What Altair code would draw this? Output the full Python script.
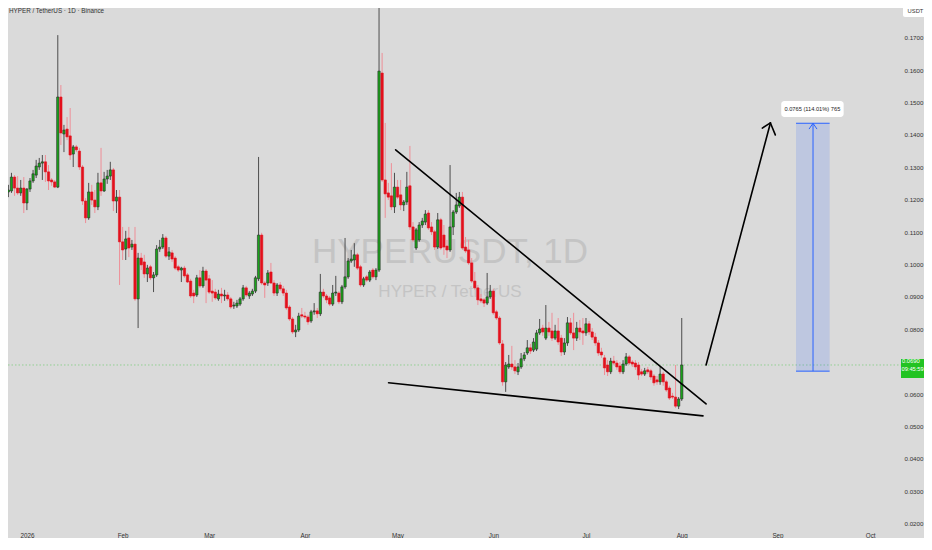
import altair as alt
import pandas as pd

# ---------------- data (daily candles, HYPER/USDT) ----------------
FIRST_DAY = "2025-12-25"

opens = [
    # Dec 25-31
    0.1243, 0.1224, 0.1227, 0.1270, 0.1236, 0.1221, 0.1236,
    # Jan
    0.1190, 0.1233, 0.1258, 0.1276, 0.1301, 0.1313, 0.1317, 0.1286, 0.1261, 0.1255,
    0.1239, 0.1517, 0.1403, 0.1418, 0.1397, 0.1341, 0.1363, 0.1350, 0.1301, 0.1196,
    0.1144, 0.1224, 0.1199, 0.1178, 0.1252, 0.1227, 0.1264, 0.1273, 0.1292, 0.1196,
    0.1208,
    # Feb
    0.1070, 0.1048, 0.1082, 0.1054, 0.1063, 0.0894, 0.1020, 0.1008, 0.0971, 0.0993,
    0.0959, 0.0968, 0.1048, 0.1054, 0.1082, 0.1026, 0.1036, 0.1020, 0.0993, 0.0983,
    0.0989, 0.0968, 0.0949, 0.0912, 0.0906, 0.0959, 0.0934, 0.0980,
    # Mar
    0.0956, 0.0918, 0.0915, 0.0894, 0.0909, 0.0903, 0.0906, 0.0894, 0.0872, 0.0872,
    0.0878, 0.0894, 0.0928, 0.0903, 0.0909, 0.0918, 0.0956, 0.1091, 0.0943, 0.0943,
    0.0977, 0.0943, 0.0912, 0.0937, 0.0925, 0.0912, 0.0869, 0.0832, 0.0792, 0.0798,
    0.0845,
    # Apr
    0.0841, 0.0838, 0.0826, 0.0854, 0.0857, 0.0848, 0.0915, 0.0903, 0.0897, 0.0878,
    0.0912, 0.0912, 0.0885, 0.0931, 0.0962, 0.1011, 0.1014, 0.1030, 0.0993, 0.0937,
    0.0962, 0.0952, 0.0983, 0.0962, 0.0983, 0.1591, 0.1261, 0.1221, 0.1212, 0.1178,
    # May
    0.1239, 0.1215, 0.1184, 0.1193, 0.1243, 0.1116, 0.1051, 0.1076, 0.1122, 0.1131,
    0.1159, 0.1116, 0.1101, 0.1054, 0.1138, 0.1091, 0.1057, 0.1045, 0.1116, 0.1162,
    0.1181, 0.1208, 0.1054, 0.1045, 0.1005, 0.0949, 0.0928, 0.0894, 0.0891, 0.0881,
    0.0900,
    # Jun
    0.0918, 0.0854, 0.0835, 0.0755, 0.0638, 0.0684, 0.0693, 0.0684, 0.0669, 0.0684,
    0.0709, 0.0727, 0.0743, 0.0736, 0.0739, 0.0789, 0.0804, 0.0773, 0.0804, 0.0795,
    0.0773, 0.0795, 0.0773, 0.0730, 0.0758, 0.0820, 0.0789, 0.0773, 0.0804, 0.0795,
    # Jul
    0.0789, 0.0817, 0.0792, 0.0776, 0.0758, 0.0730, 0.0712, 0.0690, 0.0669, 0.0702,
    0.0696, 0.0687, 0.0669, 0.0693, 0.0715, 0.0699, 0.0696, 0.0690, 0.0669, 0.0662,
    0.0675, 0.0672, 0.0656, 0.0644, 0.0638, 0.0662, 0.0638, 0.0619, 0.0594, 0.0591,
    0.0563,
    # Aug 1
    0.0585,
]

highs = [
    0.1298, 0.1246, 0.1283, 0.1276, 0.1273, 0.1261, 0.1270,
    0.1236, 0.1267, 0.1292, 0.1323, 0.1329, 0.1338, 0.1338, 0.1307, 0.1267, 0.1261,
    0.1708, 0.1554, 0.1431, 0.1455, 0.1483, 0.1369, 0.1369, 0.1360, 0.1307, 0.1205,
    0.1252, 0.1246, 0.1230, 0.1283, 0.1360, 0.1286, 0.1292, 0.1317, 0.1298, 0.1230,
    0.1230,
    0.1116, 0.1104, 0.1116, 0.1076, 0.1116, 0.1036, 0.1036, 0.1030, 0.0999, 0.0999,
    0.0977, 0.1060, 0.1076, 0.1094, 0.1088, 0.1054, 0.1045, 0.1026, 0.0999, 0.0993,
    0.0996, 0.0974, 0.0956, 0.0922, 0.0968, 0.0983, 0.0993, 0.0986,
    0.0968, 0.0952, 0.0925, 0.0922, 0.0928, 0.0922, 0.0915, 0.0900, 0.0885, 0.0891,
    0.0900, 0.0937, 0.0934, 0.0918, 0.0925, 0.0965, 0.1332, 0.1098, 0.0949, 0.0983,
    0.1005, 0.0952, 0.0943, 0.0946, 0.0934, 0.0922, 0.0875, 0.0838, 0.0814, 0.0851,
    0.0866,
    0.0854, 0.0845, 0.0860, 0.0881, 0.0866, 0.0971, 0.0925, 0.0909, 0.0903, 0.0937,
    0.0965, 0.0918, 0.0937, 0.1082, 0.1020, 0.1045, 0.1066, 0.1036, 0.0999, 0.0962,
    0.0968, 0.0983, 0.0989, 0.0989, 0.1832, 0.1653, 0.1437, 0.1252, 0.1313, 0.1283,
    0.1261, 0.1261, 0.1199, 0.1286, 0.1366, 0.1131, 0.1113, 0.1131, 0.1144, 0.1168,
    0.1168, 0.1131, 0.1107, 0.1159, 0.1144, 0.1122, 0.1076, 0.1307, 0.1168, 0.1221,
    0.1224, 0.1224, 0.1085, 0.1076, 0.1020, 0.0977, 0.0937, 0.0909, 0.0897, 0.0974,
    0.0937,
    0.0925, 0.0860, 0.0841, 0.0767, 0.0699, 0.0721, 0.0749, 0.0705, 0.0696, 0.0727,
    0.0730, 0.0767, 0.0755, 0.0773, 0.0798, 0.0832, 0.0814, 0.0875, 0.0823, 0.0851,
    0.0814, 0.0835, 0.0783, 0.0773, 0.0838, 0.0835, 0.0851, 0.0823, 0.0829, 0.0835,
    0.0835, 0.0826, 0.0804, 0.0789, 0.0767, 0.0743, 0.0721, 0.0705, 0.0712, 0.0718,
    0.0705, 0.0699, 0.0705, 0.0727, 0.0721, 0.0705, 0.0705, 0.0699, 0.0678, 0.0681,
    0.0684, 0.0678, 0.0662, 0.0656, 0.0684, 0.0669, 0.0644, 0.0626, 0.0604, 0.0690,
    0.0591,
    0.0835,
]

lows = [
    0.1215, 0.1208, 0.1221, 0.1212, 0.1215, 0.1212, 0.1159,
    0.1168, 0.1224, 0.1252, 0.1267, 0.1292, 0.1261, 0.1255, 0.1230, 0.1243, 0.1236,
    0.1236, 0.1369, 0.1347, 0.1384, 0.1323, 0.1301, 0.1347, 0.1292, 0.1184, 0.1128,
    0.1138, 0.1184, 0.1159, 0.1168, 0.1212, 0.1224, 0.1249, 0.1261, 0.1165, 0.1159,
    0.0937,
    0.1014, 0.1014, 0.1023, 0.1045, 0.0888, 0.0804, 0.0983, 0.0959, 0.0946, 0.0952,
    0.0915, 0.0962, 0.1039, 0.1048, 0.1020, 0.1014, 0.1008, 0.0983, 0.0977, 0.0946,
    0.0959, 0.0943, 0.0897, 0.0881, 0.0900, 0.0928, 0.0928, 0.0881,
    0.0909, 0.0885, 0.0891, 0.0888, 0.0881, 0.0888, 0.0888, 0.0863, 0.0863, 0.0866,
    0.0872, 0.0888, 0.0900, 0.0894, 0.0903, 0.0912, 0.0949, 0.0937, 0.0897, 0.0934,
    0.0940, 0.0903, 0.0903, 0.0918, 0.0903, 0.0860, 0.0826, 0.0786, 0.0776, 0.0792,
    0.0835,
    0.0832, 0.0814, 0.0820, 0.0845, 0.0835, 0.0841, 0.0897, 0.0881, 0.0872, 0.0872,
    0.0903, 0.0878, 0.0878, 0.0925, 0.0956, 0.1005, 0.0993, 0.0983, 0.0931, 0.0931,
    0.0946, 0.0946, 0.0956, 0.0952, 0.0977, 0.1255, 0.1144, 0.1199, 0.1168, 0.1159,
    0.1202, 0.1168, 0.1165, 0.1184, 0.1107, 0.1070, 0.1045, 0.1070, 0.1113, 0.1122,
    0.1107, 0.1091, 0.1045, 0.1048, 0.1045, 0.1030, 0.1020, 0.1039, 0.1091, 0.1156,
    0.1175, 0.1045, 0.1036, 0.0999, 0.0943, 0.0922, 0.0875, 0.0881, 0.0869, 0.0875,
    0.0894,
    0.0845, 0.0829, 0.0752, 0.0626, 0.0607, 0.0678, 0.0675, 0.0662, 0.0659, 0.0678,
    0.0702, 0.0721, 0.0724, 0.0730, 0.0733, 0.0783, 0.0780, 0.0767, 0.0780, 0.0764,
    0.0767, 0.0752, 0.0718, 0.0721, 0.0749, 0.0783, 0.0736, 0.0764, 0.0767, 0.0752,
    0.0780, 0.0783, 0.0767, 0.0749, 0.0718, 0.0712, 0.0659, 0.0656, 0.0662, 0.0690,
    0.0675, 0.0662, 0.0662, 0.0687, 0.0690, 0.0684, 0.0675, 0.0644, 0.0656, 0.0656,
    0.0662, 0.0644, 0.0626, 0.0629, 0.0629, 0.0626, 0.0607, 0.0582, 0.0585, 0.0557,
    0.0554,
    0.0579,
]

closes = [
    0.1224, 0.1230, 0.1270, 0.1236, 0.1221, 0.1236, 0.1190,
    0.1233, 0.1258, 0.1280, 0.1304, 0.1313, 0.1317, 0.1286, 0.1258, 0.1255, 0.1239,
    0.1517, 0.1406, 0.1415, 0.1394, 0.1338, 0.1363, 0.1354, 0.1301, 0.1196, 0.1144,
    0.1224, 0.1199, 0.1178, 0.1252, 0.1227, 0.1264, 0.1273, 0.1292, 0.1196, 0.1208,
    0.1070,
    0.1045, 0.1079, 0.1051, 0.1063, 0.0894, 0.1020, 0.0999, 0.0971, 0.0989, 0.0959,
    0.0968, 0.1048, 0.1054, 0.1082, 0.1026, 0.1039, 0.1017, 0.0989, 0.0983, 0.0989,
    0.0965, 0.0946, 0.0903, 0.0903, 0.0959, 0.0934, 0.0980, 0.0952,
    0.0915, 0.0912, 0.0897, 0.0909, 0.0903, 0.0906, 0.0894, 0.0869, 0.0875, 0.0881,
    0.0894, 0.0928, 0.0906, 0.0912, 0.0918, 0.0959, 0.1091, 0.0943, 0.0937, 0.0974,
    0.0943, 0.0912, 0.0937, 0.0925, 0.0912, 0.0866, 0.0832, 0.0792, 0.0798, 0.0841,
    0.0841,
    0.0838, 0.0823, 0.0854, 0.0857, 0.0848, 0.0915, 0.0903, 0.0891, 0.0878, 0.0912,
    0.0915, 0.0885, 0.0931, 0.0962, 0.1011, 0.1017, 0.1030, 0.0989, 0.0937, 0.0956,
    0.0952, 0.0977, 0.0962, 0.0983, 0.1597, 0.1261, 0.1218, 0.1208, 0.1178, 0.1239,
    0.1208, 0.1184, 0.1193, 0.1239, 0.1116, 0.1076, 0.1107, 0.1122, 0.1134, 0.1156,
    0.1113, 0.1101, 0.1054, 0.1138, 0.1051, 0.1054, 0.1045, 0.1116, 0.1162, 0.1184,
    0.1208, 0.1051, 0.1042, 0.1005, 0.0949, 0.0928, 0.0891, 0.0888, 0.0881, 0.0900,
    0.0918,
    0.0851, 0.0835, 0.0758, 0.0638, 0.0690, 0.0693, 0.0684, 0.0672, 0.0684, 0.0709,
    0.0721, 0.0743, 0.0733, 0.0761, 0.0789, 0.0801, 0.0792, 0.0804, 0.0792, 0.0773,
    0.0795, 0.0761, 0.0730, 0.0758, 0.0820, 0.0789, 0.0773, 0.0804, 0.0792, 0.0789,
    0.0817, 0.0792, 0.0776, 0.0758, 0.0727, 0.0721, 0.0681, 0.0669, 0.0702, 0.0696,
    0.0684, 0.0669, 0.0693, 0.0715, 0.0696, 0.0693, 0.0684, 0.0659, 0.0662, 0.0672,
    0.0669, 0.0653, 0.0635, 0.0638, 0.0662, 0.0638, 0.0613, 0.0588, 0.0591, 0.0563,
    0.0585,
    0.0690,
]

# axis ticks
price_ticks = [0.02, 0.03, 0.04, 0.05, 0.06, 0.07, 0.08, 0.09, 0.10,
               0.11, 0.12, 0.13, 0.14, 0.15, 0.16, 0.17]
month_ticks = ["2026-01-01", "2026-02-01", "2026-03-01", "2026-04-01", "2026-05-01",
               "2026-06-01", "2026-07-01", "2026-08-01", "2026-09-01", "2026-10-01"]
x_range = ["2025-12-27T12:00", "2026-10-08T01:40"]
y_range = [0.01746, 0.17917]

# drawings (date, price) anchor points
trend_upper = [("2026-04-30T09:00", 0.1354), ("2026-08-08T21:00", 0.0570)]
trend_lower = [("2026-04-28T02:00", 0.0635), ("2026-08-07T21:00", 0.0533)]
arrow_shaft = [("2026-08-08T21:00", 0.0690), ("2026-08-29T17:00", 0.1437)]
arrow_arms = [("2026-08-27T02:00", 0.1421), ("2026-08-31T07:00", 0.1400)]
pos_left, pos_mid, pos_right = "2026-09-07T00:00", "2026-09-12T12:00", "2026-09-17T21:00"
pos_entry, pos_target = 0.0671, 0.1436
pos_arm_left, pos_arm_right, pos_arm_price = "2026-09-11T05:00", "2026-09-13T19:00", 0.1418
pos_label = "0.0765 (114.01%) 765"
pos_label_box = [("2026-09-02T05:00", 0.1455), ("2026-09-22T10:00", 0.1505)]
pos_label_at = ("2026-09-12T07:00", 0.1480)

assert len(opens) == len(highs) == len(lows) == len(closes)

def ms(s):
    return int(pd.Timestamp(s, tz="UTC").value // 10**6)

stamps = pd.date_range(FIRST_DAY, periods=len(opens), freq="D", tz="UTC")
candles = pd.DataFrame({
    "t": [int(s.value // 10**6) for s in stamps],
    "o": opens,
    "c": closes,
    "h": [max(a, b, c) for a, b, c in zip(highs, opens, closes)],
    "l": [min(a, b, c) for a, b, c in zip(lows, opens, closes)],
})
candles["dir"] = ["up" if c >= o else "down" for o, c in zip(opens, closes)]

FONT = "Liberation Sans, Arial, sans-serif"
BG = "#dadada"
TXT = "#333333"

xs = alt.Scale(type="utc", domain=[ms(x_range[0]), ms(x_range[1])], nice=False)
ys = alt.Scale(domain=y_range, nice=False, zero=False)
xaxis = alt.Axis(values=[ms(m) for m in month_ticks],
                 labelExpr="utcmonth(datum.value) == 0 ? utcFormat(datum.value, '%Y') : utcFormat(datum.value, '%b')",
                 title=None, domain=False, ticks=False, tickSize=0, grid=False,
                 labelFont=FONT, labelFontSize=6.3, labelColor=TXT, labelPadding=3.5,
                 labelBaseline="middle",
                 labelFlush=False, labelOverlap=False, zindex=0)
yaxis = alt.Axis(orient="right", values=price_ticks, format=".4f", title=None,
                 domain=False, ticks=False, tickSize=0, grid=False,
                 labelFont=FONT, labelFontSize=6.2, labelColor=TXT, labelPadding=7,
                 labelAlign="left", labelOverlap=False, labelFlush=False, zindex=0)

def X(f):
    return alt.X(f, type="temporal", scale=xs, axis=xaxis)

def Y(f):
    return alt.Y(f, type="quantitative", scale=ys, axis=yaxis)

base = alt.Chart(candles)

wick_up = base.transform_filter(alt.datum.dir == "up").mark_rule(
    color="#4d4d4d", strokeWidth=1, clip=True).encode(x=X("t"), y=Y("l"), y2="h")
wick_dn = base.transform_filter(alt.datum.dir == "down").mark_rule(
    color="#ee8e97", strokeWidth=1, clip=True).encode(x=X("t"), y=Y("l"), y2="h")
body_up = base.transform_filter(alt.datum.dir == "up").mark_bar(
    size=2.3, fill="#1aa51a", stroke="#2a2a2a", strokeWidth=0.6, clip=True).encode(
    x=X("t"), y=Y("o"), y2="c")
body_dn = base.transform_filter(alt.datum.dir == "down").mark_bar(
    size=2.3, fill="#e3101c", stroke="#e3101c", strokeWidth=0.6, clip=True).encode(
    x=X("t"), y=Y("o"), y2="c")

# watermark
wm_df = pd.DataFrame({"a": [1]})
wm1 = alt.Chart(wm_df).mark_text(text="HYPERUSDT, 1D", font=FONT, fontSize=35,
                                 color="#c4c4c4", align="center", baseline="middle").encode(
    x=alt.value(442), y=alt.value(244))
wm2 = alt.Chart(wm_df).mark_text(text="HYPER / TetherUS", font=FONT, fontSize=17,
                                 color="#c4c4c4", align="center", baseline="middle").encode(
    x=alt.value(442), y=alt.value(284))

# chart title (top-left legend)
title = alt.Chart(wm_df).mark_text(text="HYPER / TetherUS · 1D · Binance", font=FONT,
                                   fontSize=6.3, color=TXT, align="left", baseline="middle").encode(
    x=alt.value(1), y=alt.value(3))

# current price line
last_df = pd.DataFrame({"p": [closes[-1]], "lbl": [f"{closes[-1]:.4f}"], "cd": ["09:45:59"]})
price_line = alt.Chart(last_df).mark_rule(color="#93cf93", strokeWidth=1,
                                          strokeDash=[1.5, 2]).encode(
    y=Y("p"), x=alt.value(0), x2=alt.value(893))

# trend lines and arrow
segs = []
def seg(a, b, kind):
    segs.append({"t1": ms(a[0]), "p1": a[1], "t2": ms(b[0]), "p2": b[1], "kind": kind})

seg(trend_upper[0], trend_upper[1], "black")
seg(trend_lower[0], trend_lower[1], "black")
seg(arrow_shaft[0], arrow_shaft[1], "black")
seg(arrow_shaft[1], arrow_arms[0], "black")
seg(arrow_shaft[1], arrow_arms[1], "black")
seg((pos_left, pos_target), (pos_right, pos_target), "blue")
seg((pos_left, pos_entry), (pos_right, pos_entry), "blue")
seg((pos_mid, pos_entry), (pos_mid, pos_target), "blue")
seg((pos_arm_left, pos_arm_price), (pos_mid, pos_target), "blue")
seg((pos_arm_right, pos_arm_price), (pos_mid, pos_target), "blue")
seg_df = pd.DataFrame(segs)

black_lines = alt.Chart(seg_df).transform_filter(alt.datum.kind == "black").mark_rule(
    color="#000000", strokeWidth=1.6, strokeCap="round").encode(
    x=X("t1"), x2="t2", y=Y("p1"), y2="p2")

pos_df = pd.DataFrame({"t1": [ms(pos_left)], "t2": [ms(pos_right)],
                       "p1": [pos_entry], "p2": [pos_target]})
pos_box = alt.Chart(pos_df).mark_rect(fill="#2962ff", opacity=0.16).encode(
    x=X("t1"), x2="t2", y=Y("p1"), y2="p2")
blue_lines = alt.Chart(seg_df).transform_filter(alt.datum.kind == "blue").mark_rule(
    color="#2962ff", strokeWidth=1).encode(x=X("t1"), x2="t2", y=Y("p1"), y2="p2")

lab_df = pd.DataFrame({"t1": [ms(pos_label_box[0][0])], "t2": [ms(pos_label_box[1][0])],
                       "p1": [pos_label_box[0][1]], "p2": [pos_label_box[1][1]],
                       "tt": [ms(pos_label_at[0])], "pp": [pos_label_at[1]],
                       "txt": [pos_label]})
lab_box = alt.Chart(lab_df).mark_rect(fill="#ffffff", cornerRadius=3).encode(
    x=X("t1"), x2="t2", y=Y("p1"), y2="p2")
lab_txt = alt.Chart(lab_df).mark_text(font=FONT, fontSize=5.7, color="#222222",
                                      align="center", baseline="middle").encode(
    x=X("tt"), y=Y("pp"), text="txt:N")

# right-axis badges
usdt_box = alt.Chart(wm_df).mark_rect(fill="#ffffff", cornerRadius=2).encode(
    x=alt.value(895), x2=alt.value(922), y=alt.value(-5), y2=alt.value(9))
usdt_txt = alt.Chart(wm_df).mark_text(text="USDT", font=FONT, fontSize=5.8, color=TXT,
                                      align="center", baseline="middle").encode(
    x=alt.value(907.5), y=alt.value(2.5))
price_box = alt.Chart(last_df).mark_rect(fill="#22c322").encode(
    x=alt.value(893), x2=alt.value(922), y=alt.value(351), y2=alt.value(370))
price_txt = alt.Chart(last_df).mark_text(font=FONT, fontSize=5.8, color="#ffffff",
                                         align="left", baseline="middle", dy=-4).encode(
    x=alt.value(894), y=Y("p"), text="lbl:N")
cd_txt = alt.Chart(last_df).mark_text(font=FONT, fontSize=5.7, color="#ffffff",
                                      align="left", baseline="middle", dy=4.5).encode(
    x=alt.value(893.5), y=Y("p"), text="cd:N")

chart = alt.layer(
    wm1, wm2, price_line, wick_up, wick_dn, body_up, body_dn,
    black_lines, pos_box, blue_lines, lab_box, lab_txt, title,
    usdt_box, usdt_txt, price_box, price_txt, cd_txt,
).properties(
    width=889, height=524, background=BG,
    padding={"left": 0, "top": 0, "right": 27, "bottom": 6},
    autosize=alt.AutoSizeParams(type="none"),
).configure_view(stroke=None, fill=BG)

chart.save("out.html", embed_options={"renderer": "svg", "actions": False})
